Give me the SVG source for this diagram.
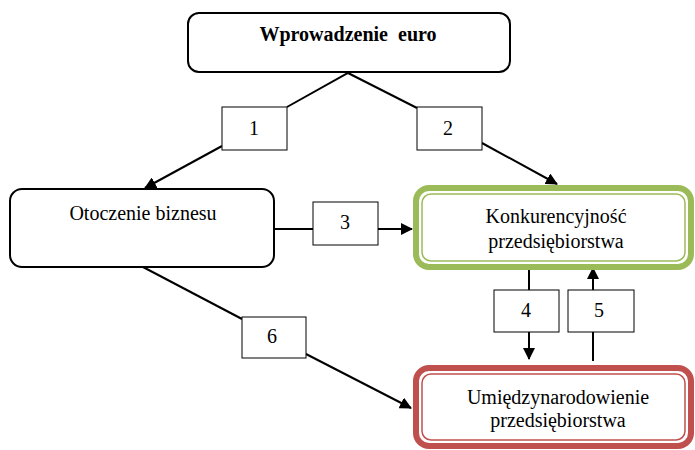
<svg xmlns="http://www.w3.org/2000/svg" width="695" height="450" viewBox="0 0 695 450">
<defs>
<marker id="ah" markerWidth="12" markerHeight="12" viewBox="0 0 12 12" refX="11" refY="6" orient="auto" markerUnits="userSpaceOnUse">
<path d="M0,0 L12,6 L0,12 Z" fill="#000"/>
</marker>
</defs>
<style>
.t{font-family:"Liberation Serif","Times New Roman",serif;font-size:20px;fill:#000;text-anchor:middle;white-space:pre}
.b{font-weight:bold}
.box{fill:#fff;stroke:#000;stroke-width:2}
.lbl{fill:#fff;stroke:#000;stroke-width:1}
.ln{fill:none;stroke:#000;stroke-width:2}
.arr{fill:none;stroke:#000;stroke-width:2;marker-end:url(#ah)}
</style>
<rect width="695" height="450" fill="#fff"/>
<g id="connectors">
<polyline class="ln" points="287,107 348,73 417,108"/>
<line class="arr" x1="222" y1="146" x2="145" y2="188"/>
<line class="arr" x1="482" y1="143" x2="557" y2="184"/>
<line class="ln" x1="274" y1="229" x2="313" y2="229"/>
<line class="arr" x1="378" y1="229" x2="412" y2="229"/>
<line class="ln" x1="143" y1="267" x2="242" y2="319"/>
<line class="arr" x1="306" y1="354" x2="411" y2="408"/>
<line class="ln" x1="529" y1="270" x2="529" y2="290"/>
<line class="arr" x1="529" y1="332" x2="529" y2="359"/>
<line class="ln" x1="593" y1="361" x2="593" y2="332"/>
<line class="arr" x1="593" y1="290" x2="593" y2="268"/>
</g>
<g id="euro">
<rect class="box" x="188" y="13" width="322" height="59" rx="11"/>
<text class="t b" x="348" y="41" xml:space="preserve">Wprowadzenie  euro</text>
</g>
<g id="otoczenie">
<rect class="box" x="10" y="189" width="264" height="78" rx="12"/>
<text class="t" x="143" y="220">Otoczenie biznesu</text>
</g>
<g id="konkurencyjnosc">
<rect x="416" y="188" width="275" height="79" rx="13" fill="#fff" stroke="#9bbb59" stroke-width="6"/>
<rect x="422" y="194" width="263" height="67" rx="9" fill="none" stroke="#9bbb59" stroke-width="1.5"/>
<text class="t" x="556" y="223">Konkurencyjność</text>
<text class="t" x="556" y="248">przedsiębiorstwa</text>
</g>
<g id="umiedzynarodowienie">
<rect x="416" y="368" width="275" height="78" rx="13" fill="#fff" stroke="#c0504d" stroke-width="6"/>
<rect x="422" y="374" width="263" height="66" rx="9" fill="none" stroke="#c0504d" stroke-width="1.5"/>
<text class="t" x="558" y="404">Umiędzynarodowienie</text>
<text class="t" x="558" y="427">przedsiębiorstwa</text>
</g>
<g id="l1"><rect class="lbl" x="222" y="107" width="65" height="43"/><text class="t" x="254" y="135">1</text></g>
<g id="l2"><rect class="lbl" x="417" y="107" width="65" height="43"/><text class="t" x="448" y="135">2</text></g>
<g id="l3"><rect class="lbl" x="313" y="202" width="65" height="43"/><text class="t" x="345" y="229">3</text></g>
<g id="l4"><rect class="lbl" x="494" y="290" width="65" height="42"/><text class="t" x="526" y="317">4</text></g>
<g id="l5"><rect class="lbl" x="568" y="290" width="66" height="42"/><text class="t" x="599" y="317">5</text></g>
<g id="l6"><rect class="lbl" x="242" y="317" width="64" height="41"/><text class="t" x="272" y="343">6</text></g>
</svg>
